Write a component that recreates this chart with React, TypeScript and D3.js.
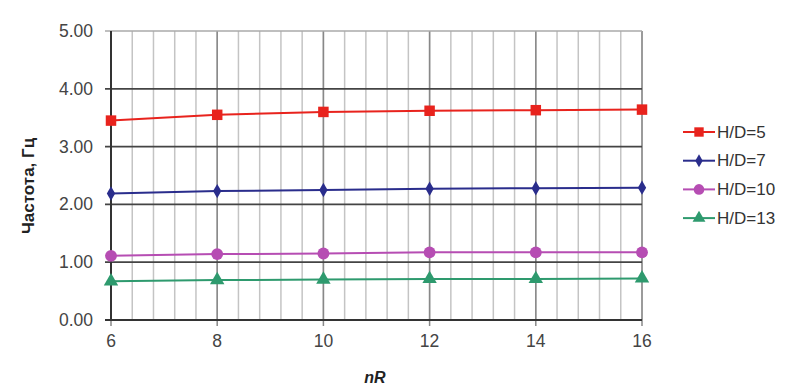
import * as d3 from 'd3'

const nR = [6, 8, 10, 12, 14, 16]
const hd5 = [3.45, 3.55, 3.6, 3.62, 3.63, 3.64]
const hd7 = [2.19, 2.23, 2.25, 2.27, 2.28, 2.29]
const hd10 = [1.11, 1.14, 1.15, 1.17, 1.17, 1.17]
const hd13 = [0.67, 0.69, 0.7, 0.71, 0.71, 0.72]
const seriesNames = ['H/D=5', 'H/D=7', 'H/D=10', 'H/D=13']
const yTicks = [0, 1, 2, 3, 4, 5]
const xTicks = [6, 8, 10, 12, 14, 16]

const colors = ['#e8231d', '#2a2d8c', '#b64db3', '#2e9a6e']
const markers = [d3.symbolSquare, d3.symbolDiamond, d3.symbolCircle, d3.symbolTriangle]
const markerSize = [110, 60, 110, 90]

const width = 800
const height = 392
const font = 'Liberation Sans, Arial, sans-serif'

export default function App() {
  const x = d3.scaleLinear().domain([6, 16]).range([111, 642])
  const y = d3.scaleLinear().domain([0, 5]).range([320, 31])

  const data = [hd5, hd7, hd10, hd13]
  const line = d3
    .line<number>()
    .x((_, i) => x(nR[i]))
    .y((d) => y(d))

  const minorX = d3.range(6, 16.001, 0.4)

  return (
    <svg
      width={width}
      height={height}
      style={{ position: 'absolute', left: 0, top: 0, background: '#fff' }}
    >
      {/* minor vertical grid */}
      {minorX.map((v) => (
        <line key={'mx' + v} x1={x(v)} x2={x(v)} y1={y(5)} y2={y(0)} stroke="#c4c4c4" strokeWidth={1.5} />
      ))}
      {/* major vertical grid */}
      {xTicks.map((v) => (
        <line key={'Mx' + v} x1={x(v)} x2={x(v)} y1={y(5)} y2={y(0) + 6} stroke="#888" strokeWidth={1.5} />
      ))}
      {/* horizontal grid */}
      {yTicks.map((v) => (
        <line
          key={'hy' + v}
          x1={x(6) - 6}
          x2={x(16)}
          y1={y(v)}
          y2={y(v)}
          stroke={v === 5 ? '#aaa' : '#444'}
          strokeWidth={v === 5 ? 1.5 : 1.8}
        />
      ))}
      {/* axes */}
      <line x1={x(6)} x2={x(6)} y1={y(5)} y2={y(0)} stroke="#333" strokeWidth={2} />
      <line x1={x(6) - 6} x2={x(16)} y1={y(0)} y2={y(0)} stroke="#333" strokeWidth={2} />

      {yTicks.map((v) => (
        <text
          key={'yt' + v}
          x={93}
          y={y(v)}
          textAnchor="end"
          dominantBaseline="central"
          fontFamily={font}
          fontSize={17.5}
          fill="#444"
        >
          {v.toFixed(2)}
        </text>
      ))}
      {xTicks.map((v) => (
        <text
          key={'xt' + v}
          x={x(v)}
          y={341}
          textAnchor="middle"
          dominantBaseline="central"
          fontFamily={font}
          fontSize={17.5}
          fill="#444"
        >
          {v}
        </text>
      ))}

      <text
        transform="translate(28,186) rotate(-90)"
        textAnchor="middle"
        dominantBaseline="central"
        fontFamily={font}
        fontSize={17}
        fontWeight="bold"
        fill="#222"
      >
        Частота, Гц
      </text>
      <text
        x={375}
        y={377}
        textAnchor="middle"
        dominantBaseline="central"
        fontFamily={font}
        fontSize={16}
        fontWeight="bold"
        fontStyle="italic"
        fill="#222"
      >
        nR
      </text>

      {data.map((s, k) => (
        <g key={seriesNames[k]}>
          <path d={line(s) || undefined} fill="none" stroke={colors[k]} strokeWidth={2} />
          {s.map((v, i) => (
            <path
              key={i}
              transform={`translate(${x(nR[i])},${y(v)})`}
              d={d3.symbol(markers[k], markerSize[k])() || undefined}
              fill={colors[k]}
            />
          ))}
        </g>
      ))}

      {/* legend */}
      {seriesNames.map((name, k) => {
        const ly = 132 + k * 28.7
        return (
          <g key={'lg' + name} transform={`translate(683,${ly})`}>
            <line x1={0} x2={32} y1={0} y2={0} stroke={colors[k]} strokeWidth={2} />
            <path
              transform="translate(16,0)"
              d={d3.symbol(markers[k], markerSize[k] * 0.8)() || undefined}
              fill={colors[k]}
            />
            <text
              x={34}
              y={0}
              dominantBaseline="central"
              fontFamily={font}
              fontSize={17}
              fill="#333"
            >
              {name}
            </text>
          </g>
        )
      })}
    </svg>
  )
}
